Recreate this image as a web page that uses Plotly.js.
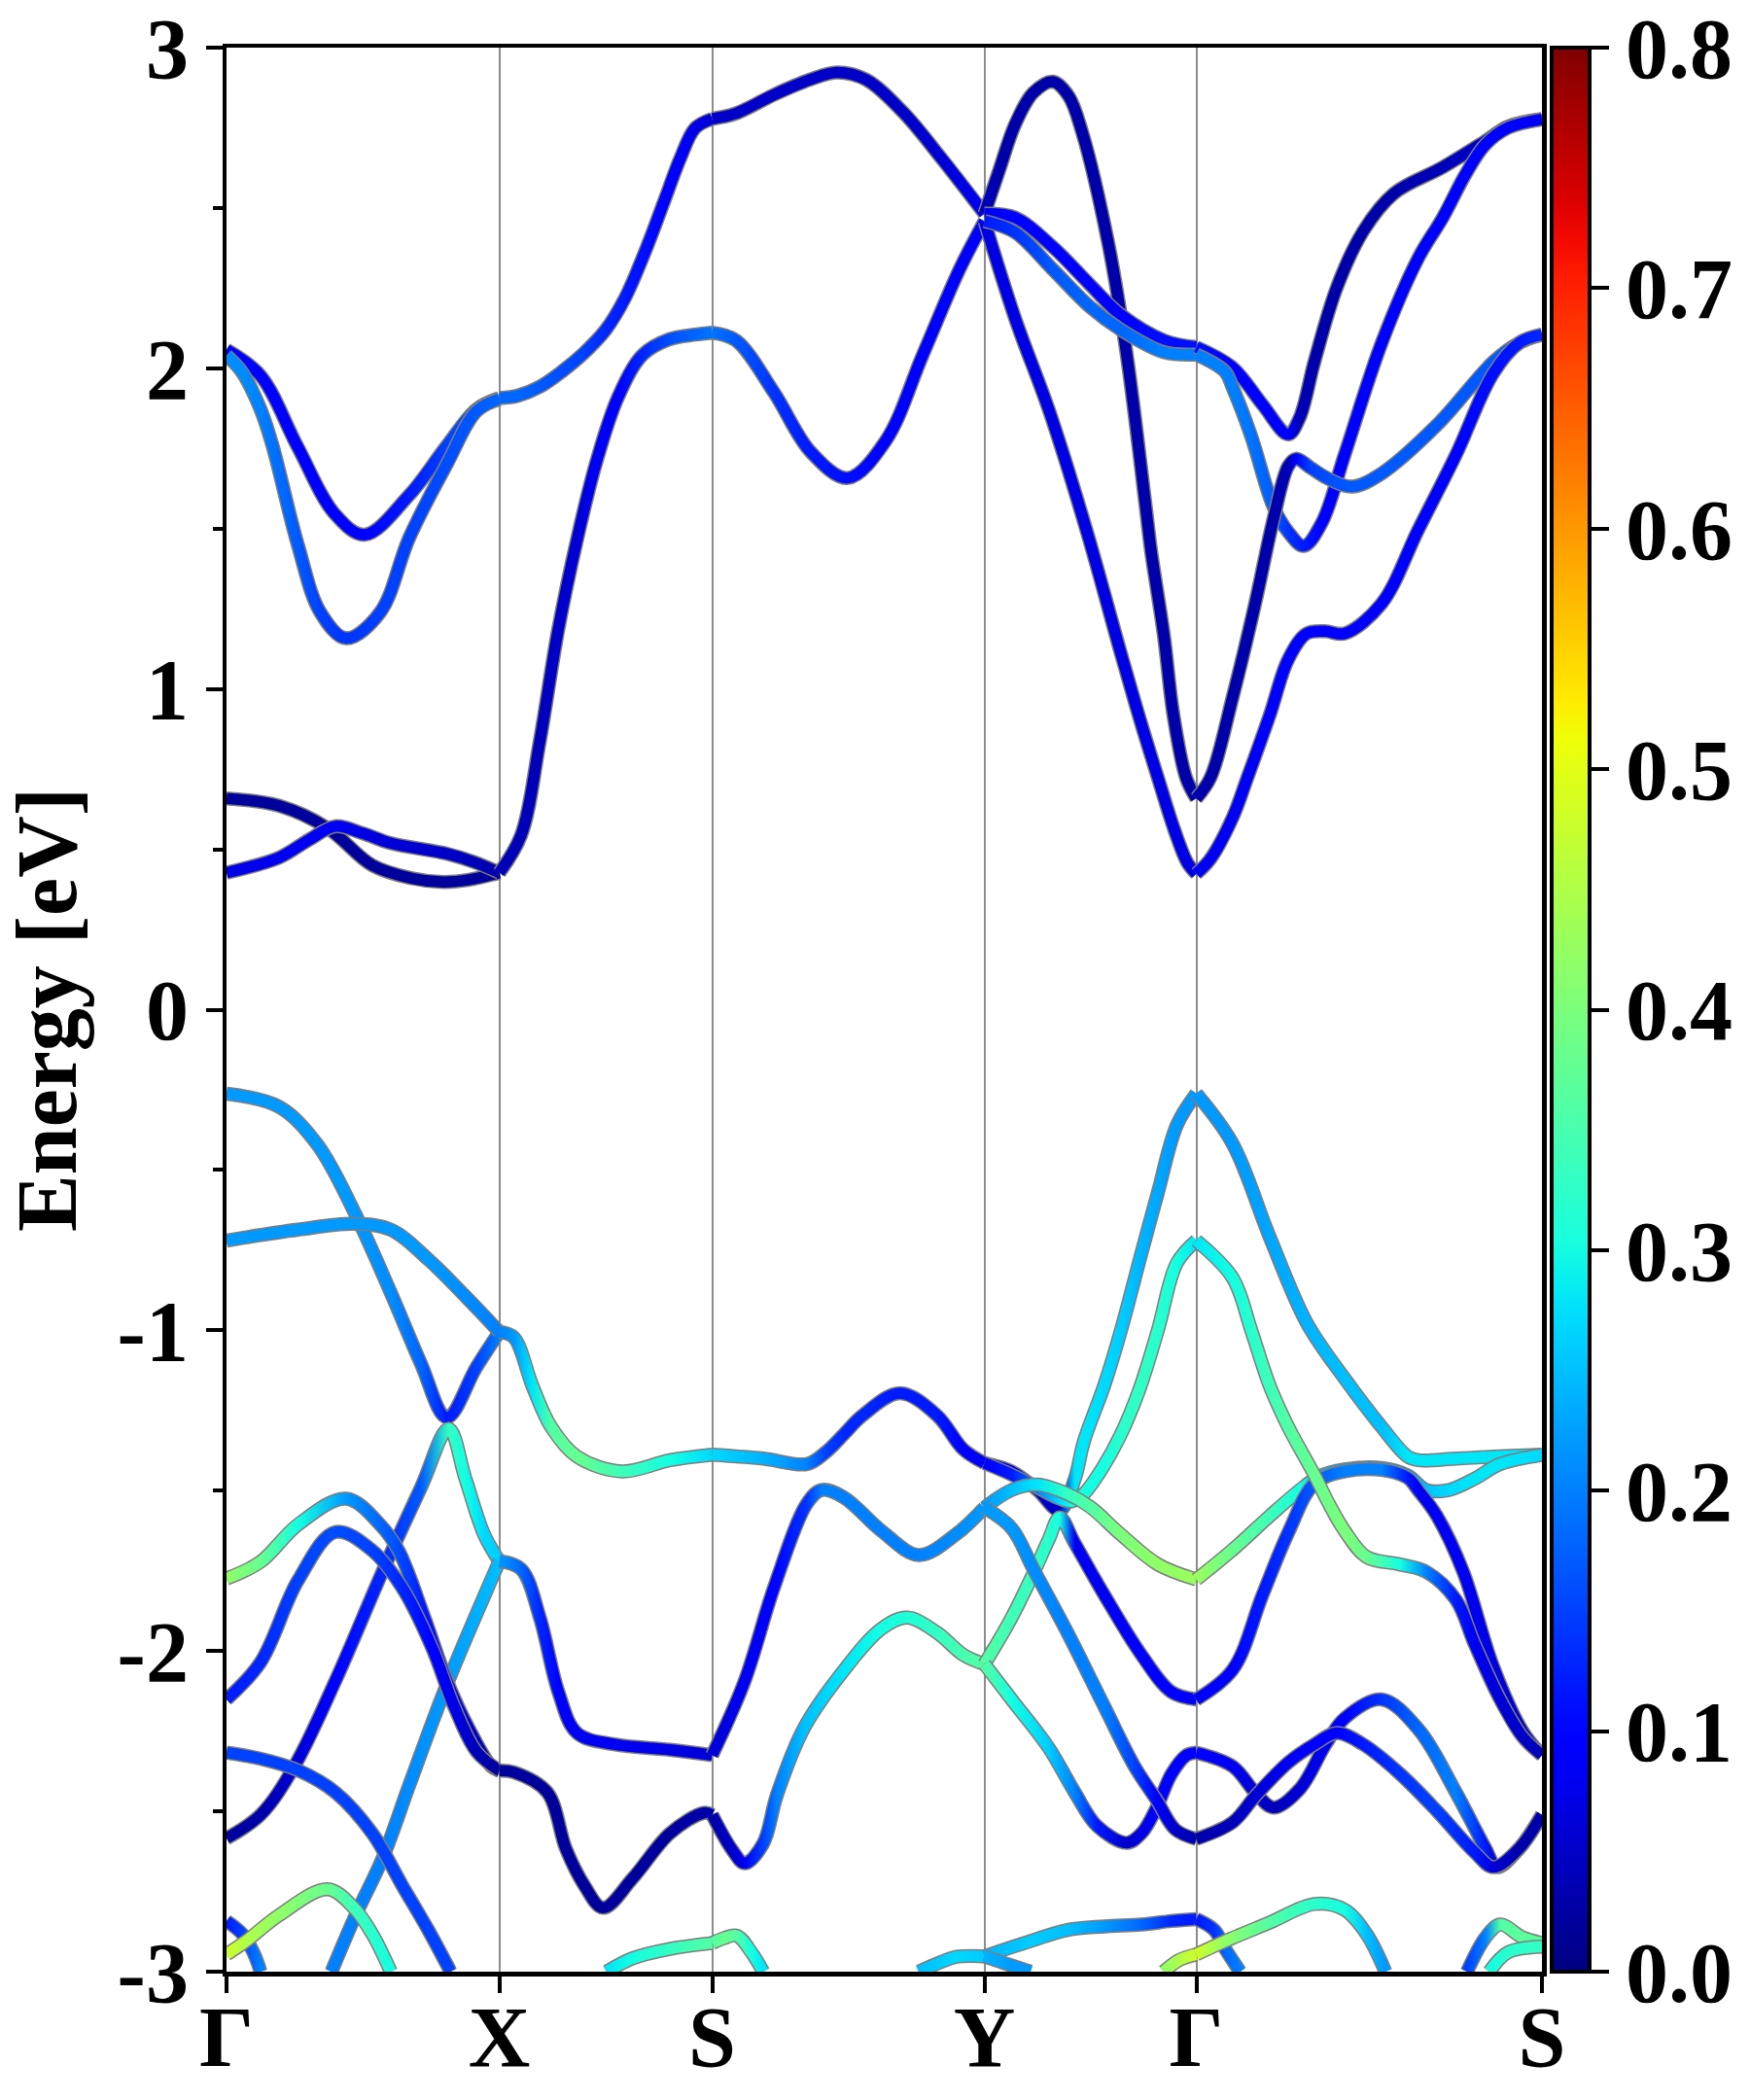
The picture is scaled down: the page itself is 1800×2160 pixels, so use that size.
<!DOCTYPE html>
<html>
<head>
<meta charset="utf-8">
<script src="https://cdn.plot.ly/plotly-3.0.1.min.js"></script>
<style>html,body{margin:0;padding:0;background:#fff;}#plot{width:1800px;height:2160px;}</style>
</head>
<body>
<div id="plot"></div>
<script>
// ---- axis ticks ----
const kTicks = [0, 0.2806, 0.4995, 0.7796, 0.9975, 1.353];
const kLabels = ['Γ', 'X', 'S', 'Y', 'Γ', 'S'];
const eTicks = [-3, -2, -1, 0, 1, 2, 3];
const eLabels = ['-3', '-2', '-1', '0', '1', '2', '3'];
const wTicks = [0, 0.1, 0.2, 0.3, 0.4, 0.5, 0.6, 0.7, 0.8];
const wLabels = ['0.0', '0.1', '0.2', '0.3', '0.4', '0.5', '0.6', '0.7', '0.8'];

// ---- bands: [k, Energy (eV), weight] ----
// conduction, Γ-X
const cb_gx_up = [[0,2.058,.09],[.035,1.977,.09],[.073,1.756,.09],[.111,1.547,.09],[.142,1.481,.1],[.188,1.605,.12],[.226,1.756,.15],[.257,1.872,.17],[.2806,1.907,.18]];
const cb_gx_lo = [[0,2.040,.21],[.016,1.988,.21],[.035,1.872,.2],[.047,1.762,.19],[.0735,1.448,.17],[.0965,1.239,.15],[.123,1.158,.14],[.158,1.239,.15],[.188,1.472,.15],[.227,1.704,.16],[.257,1.866,.17],[.2806,1.904,.18]];
const cb_gx_a = [[0,.659,.02],[.054,.636,.02],[.104,.566,.02],[.150,.450,.02],[.190,.41,.02],[.223,.398,.02],[.2496,.405,.02],[.2806,.427,.02]];
const cb_gx_b = [[0,.427,.07],[.054,.474,.08],[.085,.53,.08],[.112,.572,.08],[.140,.55,.07],[.169,.519,.06],[.227,.486,.05],[.255,.46,.04],[.2806,.427,.03]];
// conduction, X-S
const cb_xs_lo = [[.2806,.427,.04],[.303,.544,.04],[.322,.833,.04],[.341,1.182,.05],[.361,1.472,.06],[.380,1.704,.08],[.403,1.912,.1],[.428,2.042,.13],[.455,2.09,.16],[.482,2.105,.18],[.4995,2.111,.19]];
const cb_xs_up = [[.2806,1.907,.18],[.300,1.915,.18],[.322,1.942,.17],[.345,1.99,.16],[.367,2.046,.15],[.390,2.12,.13],[.410,2.22,.12],[.430,2.36,.11],[.450,2.52,.1],[.467,2.657,.09],[.482,2.749,.07],[.4995,2.778,.06]];
// conduction, S-Y
const cb_sy_up = [[.4995,2.778,.05],[.524,2.795,.05],[.563,2.853,.05],[.600,2.90,.05],[.628,2.923,.05],[.658,2.900,.05],[.697,2.795,.05],[.735,2.656,.06],[.7796,2.482,.08]];
const cb_sy_lo = [[.4995,2.111,.19],[.524,2.087,.17],[.563,1.925,.14],[.601,1.739,.12],[.639,1.658,.11],[.678,1.774,.1],[.716,2.041,.1],[.754,2.309,.1],[.7796,2.459,.1]];
// conduction, Y-Γ
const cb_yg_a = [[.7796,2.482,.04],[.795,2.62,.03],[.811,2.760,.03],[.830,2.86,.03],[.850,2.894,.03],[.866,2.85,.03],[.880,2.737,.03],[.907,2.389,.03],[.926,2.041,.03],[.945,1.58,.03],[.951,1.43,.03],[.964,1.17,.03],[.974,.918,.03],[.987,.723,.03],[.9975,.659,.03]];
const cb_yg_b = [[.7796,2.459,.07],[.811,2.157,.07],[.847,1.86,.07],[.885,1.49,.07],[.920,1.11,.07],[.940,.90,.07],[.958,.723,.07],[.975,.56,.07],[.988,.46,.07],[.9975,.424,.07]];
const cb_yg_c = [[.7796,2.482,.08],[.811,2.47,.1],[.850,2.378,.1],[.888,2.261,.1],[.919,2.169,.1],[.9645,2.087,.11],[.9975,2.066,.11]];
const cb_yg_d = [[.7796,2.459,.12],[.811,2.424,.14],[.850,2.308,.17],[.888,2.192,.18],[.919,2.122,.18],[.9645,2.05,.2],[.9975,2.043,.2]];
// conduction, Γ-S
const cb_gs_1 = [[.9975,2.066,.11],[1.035,2.002,.1],[1.0655,1.887,.1],[1.092,1.794,.09],[1.1038,1.846,.04],[1.119,2.021,.03],[1.142,2.252,.03],[1.169,2.427,.03],[1.2006,2.545,.03],[1.251,2.627,.04],[1.2945,2.708,.05],[1.318,2.754,.06],[1.353,2.777,.07]];
const cb_gs_2 = [[.9975,2.043,.2],[1.027,1.99,.2],[1.035,1.939,.2],[1.054,1.788,.19],[1.077,1.567,.17],[1.092,1.49,.14],[1.108,1.446,.12],[1.127,1.521,.1],[1.150,1.730,.1],[1.188,2.078,.1],[1.226,2.345,.1],[1.251,2.47,.1],[1.274,2.603,.1],[1.2945,2.697,.1],[1.318,2.75,.09],[1.353,2.777,.08]];
const cb_gs_3 = [[.9975,.659,.03],[1.012,.723,.03],[1.035,.976,.03],[1.058,1.266,.03],[1.077,1.532,.03],[1.092,1.695,.04],[1.100,1.718,.1],[1.115,1.69,.15],[1.1306,1.660,.16],[1.157,1.631,.17],[1.188,1.672,.17],[1.245,1.823,.17],[1.303,2.020,.17],[1.330,2.08,.18],[1.353,2.105,.18]];
const cb_gs_4 = [[.9975,.424,.08],[1.012,.47,.08],[1.035,.60,.08],[1.050,.723,.08],[1.073,.918,.09],[1.092,1.092,.09],[1.111,1.173,.1],[1.130,1.18,.1],[1.150,1.173,.1],[1.188,1.266,.1],[1.226,1.498,.1],[1.2645,1.730,.1],[1.303,1.985,.11],[1.330,2.08,.12],[1.353,2.105,.13]];

// valence, Γ-X
const vb_gx_1 = [[0,-.262,.22],[.054,-.303,.22],[.093,-.419,.22],[.131,-.628,.22],[.169,-.883,.21],[.200,-1.104,.18],[.2266,-1.272,.12],[.257,-1.115,.15],[.2806,-1.005,.2]];
const vb_gx_2 = [[0,-.720,.22],[.0735,-.686,.22],[.131,-.668,.22],[.169,-.686,.22],[.2075,-.779,.22],[.2457,-.894,.21],[.2806,-1.005,.2]];
const vb_gx_3 = [[0,-2.584,.02],[.035,-2.511,.03],[.0697,-2.360,.06],[.112,-2.093,.1],[.1615,-1.745,.13],[.200,-1.490,.17],[.2285,-1.307,.33],[.2458,-1.463,.3],[.265,-1.637,.27],[.2806,-1.72,.26]];
const vb_gx_4 = [[.108,-3.0,.2],[.131,-2.836,.2],[.1615,-2.639,.2],[.188,-2.418,.21],[.2266,-2.105,.22],[.2806,-1.72,.25]];
const vb_gx_5 = [[0,-1.774,.42],[.035,-1.722,.38],[.0735,-1.606,.3],[.123,-1.525,.22],[.158,-1.606,.18],[.177,-1.687,.16],[.2036,-1.896,.12],[.2266,-2.093,.1],[.2496,-2.244,.06],[.2725,-2.360,.03],[.2806,-2.373,.02]];
const vb_gx_6 = [[0,-2.151,.12],[.035,-2.035,.13],[.0735,-1.780,.15],[.112,-1.629,.16],[.150,-1.687,.15],[.1807,-1.803,.13],[.2113,-1.989,.1],[.2343,-2.174,.07],[.2572,-2.314,.04],[.2806,-2.373,.02]];
const vb_gx_7 = [[0,-2.317,.15],[.035,-2.336,.15],[.0735,-2.372,.15],[.112,-2.441,.15],[.150,-2.569,.15],[.1807,-2.731,.15],[.2075,-2.870,.15],[.2304,-3.0,.15]];
const vb_gx_8 = [[0,-2.842,.12],[.016,-2.882,.15],[.0276,-2.94,.18],[.035,-3.0,.2]];
const vb_gx_9 = [[0,-2.946,.48],[.020,-2.905,.45],[.054,-2.824,.42],[.104,-2.743,.38],[.131,-2.801,.34],[.150,-2.883,.32],[.169,-3.0,.3]];
// valence, X-S
const vb_xs_1 = [[.2806,-1.005,.2],[.2955,-1.022,.22],[.3146,-1.173,.28],[.3338,-1.301,.36],[.3606,-1.394,.38],[.4065,-1.440,.34],[.4562,-1.405,.3],[.4995,-1.388,.27]];
const vb_xs_2 = [[.2806,-1.72,.22],[.3032,-1.745,.18],[.3223,-1.896,.13],[.3414,-2.128,.1],[.3606,-2.256,.08],[.3988,-2.291,.08],[.456,-2.308,.07],[.4995,-2.325,.06]];
const vb_xs_3 = [[.2806,-2.373,.02],[.2955,-2.378,.02],[.330,-2.441,.02],[.349,-2.616,.02],[.368,-2.731,.02],[.3873,-2.801,.02],[.418,-2.708,.02],[.456,-2.569,.02],[.4907,-2.505,.03],[.4995,-2.511,.03]];
const vb_xs_4 = [[.391,-3.0,.28],[.418,-2.958,.3],[.456,-2.929,.33],[.4995,-2.911,.36]];
// valence, S-Y
const vb_sy_1 = [[.4995,-1.388,.27],[.552,-1.400,.24],[.597,-1.417,.2],[.616,-1.381,.15],[.635,-1.324,.13],[.654,-1.266,.13],[.6927,-1.196,.12],[.731,-1.266,.12],[.7577,-1.371,.1],[.7796,-1.414,.08]];
const vb_sy_2 = [[.4995,-2.325,.06],[.533,-2.093,.08],[.563,-1.803,.1],[.597,-1.54,.14],[.612,-1.498,.2],[.635,-1.521,.2],[.6735,-1.625,.2],[.712,-1.701,.2],[.750,-1.637,.21],[.7796,-1.553,.22]];
const vb_sy_3 = [[.4995,-2.511,.03],[.520,-2.62,.05],[.533,-2.662,.08],[.552,-2.60,.15],[.566,-2.45,.2],[.594,-2.24,.25],[.635,-2.06,.28],[.6735,-1.931,.3],[.700,-1.896,.31],[.731,-1.943,.33],[.7577,-2.012,.35],[.7796,-2.041,.36]];
const vb_sy_4 = [[.4995,-2.911,.36],[.512,-2.895,.38],[.525,-2.888,.36],[.540,-2.94,.3],[.552,-3.0,.28]];
const vb_sy_5 = [[.712,-3.0,.25],[.735,-2.97,.26],[.750,-2.954,.27],[.7796,-2.952,.26]];
// valence, Y-Γ
const vb_yg_1 = [[.7796,-1.414,.08],[.8075,-1.440,.07],[.834,-1.498,.05],[.857,-1.562,.05],[.8725,-1.463,.28],[.8818,-1.347,.28],[.903,-1.17,.27],[.920,-1.0,.26],[.941,-.76,.24],[.958,-.57,.23],[.9775,-.36,.22],[.9975,-.262,.22]];
const vb_yg_2 = [[.7796,-1.414,.1],[.8075,-1.45,.12],[.834,-1.49,.2],[.857,-1.525,.27],[.870,-1.533,.3],[.8818,-1.510,.3],[.901,-1.429,.3],[.920,-1.324,.32],[.939,-1.184,.33],[.958,-.999,.32],[.9775,-.790,.3],[.9975,-.720,.28]];
const vb_yg_3 = [[.7796,-1.553,.22],[.8075,-1.498,.25],[.834,-1.481,.28],[.865,-1.510,.33],[.888,-1.550,.36],[.920,-1.637,.4],[.958,-1.730,.42],[.9975,-1.777,.43]];
const vb_yg_4 = [[.7796,-2.041,.36],[.8075,-1.896,.34],[.830,-1.757,.33],[.8457,-1.652,.32],[.857,-1.583,.3],[.8725,-1.664,.08],[.903,-1.826,.08],[.941,-2.012,.09],[.972,-2.128,.1],[.9975,-2.151,.1]];
const vb_yg_5 = [[.7796,-2.041,.36],[.8075,-2.151,.3],[.8457,-2.302,.26],[.8725,-2.441,.2],[.8955,-2.546,.12],[.926,-2.598,.05],[.941,-2.569,.07],[.9567,-2.488,.09],[.972,-2.383,.1],[.9874,-2.325,.1],[.9975,-2.317,.1]];
const vb_yg_6 = [[.7796,-1.553,.22],[.8075,-1.617,.22],[.830,-1.745,.21],[.865,-1.943,.2],[.903,-2.174,.2],[.934,-2.360,.15],[.9567,-2.465,.1],[.976,-2.557,.05],[.9975,-2.586,.03]];
const vb_yg_7 = [[.7796,-2.952,.24],[.8266,-2.905,.26],[.865,-2.870,.25],[.903,-2.859,.22],[.941,-2.853,.18],[.972,-2.842,.13],[.9975,-2.836,.12]];
const vb_yg_8 = [[.7796,-2.952,.24],[.8075,-2.981,.22],[.827,-3.0,.22]];
const vb_yg_9 = [[.964,-3.0,.42],[.9797,-2.964,.45],[.9975,-2.946,.48]];
// valence, Γ-S
const vb_gs_1 = [[.9975,-.262,.22],[1.035,-.419,.22],[1.073,-.709,.23],[1.111,-.976,.24],[1.150,-1.150,.25],[1.188,-1.301,.25],[1.215,-1.394,.28],[1.226,-1.405,.28],[1.2645,-1.40,.28],[1.303,-1.394,.28],[1.353,-1.388,.27]];
const vb_gs_2 = [[.9975,-1.777,.43],[1.035,-1.684,.38],[1.073,-1.579,.34],[1.104,-1.498,.3],[1.123,-1.457,.25],[1.150,-1.434,.22],[1.188,-1.429,.22],[1.2147,-1.452,.22],[1.234,-1.498,.25],[1.257,-1.498,.27],[1.2836,-1.463,.28],[1.310,-1.417,.28],[1.353,-1.388,.27]];
const vb_gs_3 = [[.9975,-2.151,.1],[1.035,-2.058,.1],[1.0655,-1.826,.12],[1.0923,-1.629,.14],[1.119,-1.478,.17],[1.150,-1.44,.2],[1.188,-1.435,.2],[1.2147,-1.46,.12],[1.226,-1.50,.08],[1.245,-1.579,.08],[1.272,-1.753,.08],[1.303,-2.05,.07],[1.333,-2.25,.05],[1.353,-2.325,.04]];
const vb_gs_4 = [[.9975,-.720,.28],[1.035,-.837,.3],[1.054,-1.0,.32],[1.073,-1.173,.34],[1.092,-1.301,.36],[1.119,-1.451,.38],[1.1344,-1.544,.39],[1.150,-1.625,.4],[1.1727,-1.707,.38],[1.207,-1.730,.3],[1.234,-1.753,.2],[1.2645,-1.84,.12],[1.2836,-1.977,.08],[1.310,-2.151,.06],[1.333,-2.267,.05],[1.353,-2.325,.04]];
const vb_gs_5 = [[.9975,-2.317,.1],[1.035,-2.36,.08],[1.058,-2.441,.06],[1.077,-2.488,.04],[1.104,-2.43,.06],[1.1306,-2.291,.08],[1.150,-2.21,.1],[1.188,-2.151,.14],[1.226,-2.244,.18],[1.2645,-2.441,.2],[1.295,-2.616,.12],[1.3066,-2.674,.05],[1.3295,-2.616,.03],[1.353,-2.511,.03]];
const vb_gs_6 = [[.9975,-2.586,.03],[1.035,-2.534,.04],[1.058,-2.453,.06],[1.092,-2.348,.08],[1.119,-2.291,.09],[1.142,-2.256,.1],[1.169,-2.291,.12],[1.207,-2.383,.14],[1.245,-2.499,.15],[1.2836,-2.627,.12],[1.303,-2.674,.06],[1.3295,-2.616,.03],[1.353,-2.511,.03]];
const vb_gs_7 = [[.9975,-2.836,.12],[1.016,-2.870,.14],[1.027,-2.928,.18],[1.0425,-3.0,.2]];
const vb_gs_8 = [[.9975,-2.946,.48],[1.027,-2.905,.42],[1.073,-2.847,.36],[1.119,-2.789,.32],[1.150,-2.807,.3],[1.1727,-2.883,.25],[1.192,-3.0,.22]];
const vb_gs_9 = [[1.276,-3.0,.15],[1.295,-2.893,.2],[1.310,-2.853,.36],[1.333,-2.893,.37],[1.353,-2.911,.36]];
const vb_gs_10 = [[1.299,-3.0,.3],[1.318,-2.94,.32],[1.353,-2.922,.33]];

const bands = [
  cb_gx_up, cb_gx_lo, cb_gx_a, cb_gx_b, cb_xs_lo, cb_xs_up, cb_sy_up, cb_sy_lo,
  cb_yg_a, cb_yg_b, cb_yg_c, cb_yg_d, cb_gs_1, cb_gs_2, cb_gs_3, cb_gs_4,
  vb_gx_1, vb_gx_2, vb_gx_3, vb_gx_4, vb_gx_5, vb_gx_6, vb_gx_7, vb_gx_8, vb_gx_9,
  vb_xs_1, vb_xs_2, vb_xs_3, vb_xs_4,
  vb_sy_1, vb_sy_2, vb_sy_3, vb_sy_4, vb_sy_5,
  vb_yg_1, vb_yg_2, vb_yg_3, vb_yg_4, vb_yg_5, vb_yg_6, vb_yg_7, vb_yg_8, vb_yg_9,
  vb_gs_1, vb_gs_2, vb_gs_3, vb_gs_4, vb_gs_5, vb_gs_6, vb_gs_7, vb_gs_8, vb_gs_9, vb_gs_10
];

// ---- matplotlib-style jet colormap ----
const WMAX = 0.8;
function interp(pts, t) {
  for (let i = 0; i < pts.length - 1; i++) {
    const [x0, y0] = pts[i], [x1, y1] = pts[i + 1];
    if (t >= x0 && t <= x1) return y0 + (y1 - y0) * (t - x0) / (x1 - x0);
  }
  return pts[pts.length - 1][1];
}
const JR = [[0,0],[0.35,0],[0.66,1],[0.89,1],[1,0.5]];
const JG = [[0,0],[0.125,0],[0.375,1],[0.64,1],[0.91,0],[1,0]];
const JB = [[0,0.5],[0.11,1],[0.34,1],[0.65,0],[1,0]];
function jet(t) {
  t = Math.max(0, Math.min(1, t));
  return 'rgb(' + Math.round(255 * interp(JR, t)) + ',' + Math.round(255 * interp(JG, t)) + ',' + Math.round(255 * interp(JB, t)) + ')';
}
const jetScale = [];
for (let i = 0; i <= 50; i++) jetScale.push([i / 50, jet(i / 50)]);

const FONT = '"Liberation Serif", "Times New Roman", Times, serif';
const traces = [];

// colorbar carrier (hidden under the bands)
traces.push({
  type: 'scatter', mode: 'markers',
  x: cb_gx_a.map(p => p[0]), y: cb_gx_a.map(p => p[1]),
  marker: {
    size: 1, color: cb_gx_a.map(p => p[2]), colorscale: jetScale, cmin: 0, cmax: WMAX,
    showscale: true,
    colorbar: {
      x: 1.0074, xanchor: 'left', xpad: 0, y: 0.5, yanchor: 'middle', ypad: 0,
      len: 1, lenmode: 'fraction', thickness: 39, thicknessmode: 'pixels',
      outlinewidth: 4, outlinecolor: 'black',
      tickmode: 'array', tickvals: wTicks, ticktext: wLabels,
      ticks: 'outside', ticklen: 18, tickwidth: 4, tickcolor: 'black',
      tickfont: {family: FONT, size: 88, color: 'black', weight: 'bold'}
    }
  },
  hoverinfo: 'skip', showlegend: false
});

// every band: a grey outline, then the coloured line (coloured per point by a gradient below)
bands.forEach((b, i) => {
  const xs = b.map(p => p[0]), ys = b.map(p => p[1]);
  const meanW = b.reduce((s, p) => s + p[2], 0) / b.length;
  traces.push({type: 'scatter', mode: 'lines', x: xs, y: ys,
    line: {color: 'rgb(125,125,125)', width: 14.5, shape: 'spline', smoothing: 1},
    hoverinfo: 'skip', showlegend: false});
  traces.push({type: 'scatter', mode: 'lines', x: xs, y: ys, uid: 'band' + i,
    line: {color: jet(meanW / WMAX), width: 11.5, shape: 'spline', smoothing: 1},
    hoverinfo: 'skip', showlegend: false});
});

const layout = {
  width: 1800, height: 2160,
  margin: {l: 233, r: 214, t: 49, b: 132, autoexpand: false},
  paper_bgcolor: 'white', plot_bgcolor: 'white',
  showlegend: false,
  font: {family: FONT, color: 'black', weight: 'bold'},
  xaxis: {
    range: [kTicks[0], kTicks[kTicks.length - 1]],
    tickmode: 'array', tickvals: kTicks, ticktext: kLabels,
    ticks: 'outside', ticklen: 17, tickwidth: 4, tickcolor: 'black',
    ticklabelstandoff: -30,
    showline: true, linewidth: 4.5, linecolor: 'black', mirror: true,
    showgrid: true, gridcolor: 'rgb(140,140,140)', gridwidth: 2,
    zeroline: false, automargin: false,
    tickfont: {family: FONT, size: 88, color: 'black', weight: 'bold'}
  },
  yaxis: {
    range: [-3, 3],
    tickmode: 'array', tickvals: eTicks, ticktext: eLabels,
    ticks: 'outside', ticklen: 17, tickwidth: 4, tickcolor: 'black',
    minor: {tickmode: 'array', tickvals: [-2.5, -1.5, -0.5, 0.5, 1.5, 2.5], ticks: 'outside', ticklen: 10, tickwidth: 4, tickcolor: 'black', showgrid: false},
    showline: true, linewidth: 4.5, linecolor: 'black', mirror: true,
    showgrid: false, zeroline: false, automargin: false,
    tickfont: {family: FONT, size: 88, color: 'black', weight: 'bold'},
    title: {text: 'Energy [eV]', standoff: 25, font: {family: FONT, size: 88, color: 'black', weight: 'bold'}}
  }
};

function applyGradients(gd) {
  const xa = gd._fullLayout.xaxis;
  const svgNS = 'http://www.w3.org/2000/svg';
  const defs = gd.querySelector('svg.main-svg defs');
  if (!defs) return;
  bands.forEach((b, i) => {
    const g = gd.querySelector('g.traceband' + i);
    if (!g) return;
    const path = g.querySelector('path.js-line');
    if (!path) return;
    const x1 = xa.l2p(b[0][0]), x2 = xa.l2p(b[b.length - 1][0]);
    if (!(x2 > x1)) return;
    const grad = document.createElementNS(svgNS, 'linearGradient');
    grad.setAttribute('id', 'bandgrad' + i);
    grad.setAttribute('gradientUnits', 'userSpaceOnUse');
    grad.setAttribute('x1', x1); grad.setAttribute('x2', x2);
    grad.setAttribute('y1', 0); grad.setAttribute('y2', 0);
    b.forEach(p => {
      const st = document.createElementNS(svgNS, 'stop');
      st.setAttribute('offset', Math.max(0, Math.min(1, (xa.l2p(p[0]) - x1) / (x2 - x1))));
      st.setAttribute('stop-color', jet(p[2] / WMAX));
      grad.appendChild(st);
    });
    defs.appendChild(grad);
    path.style.stroke = 'url(#bandgrad' + i + ')';
  });
}

Plotly.newPlot('plot', traces, layout, {displayModeBar: false, staticPlot: true}).then(applyGradients);
</script>
</body>
</html>
